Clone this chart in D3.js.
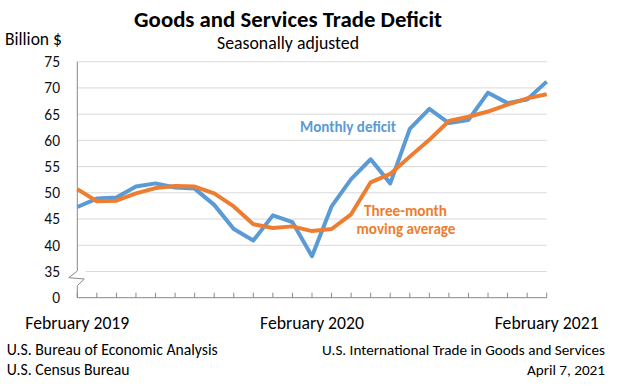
<!DOCTYPE html>
<html>
<head>
<meta charset="utf-8">
<script src="https://cdn.jsdelivr.net/npm/d3@7"></script>
<style>
  html, body { margin: 0; padding: 0; background: #fff; }
  svg { display: block; font-family: Carlito, Lato, "Open Sans", sans-serif; }
</style>
</head>
<body>
<svg id="chart" width="627" height="387"></svg>
<script>
// ---- data ----
const months = ["Feb 2019","Mar 2019","Apr 2019","May 2019","Jun 2019","Jul 2019","Aug 2019","Sep 2019","Oct 2019","Nov 2019","Dec 2019","Jan 2020",
                "Feb 2020","Mar 2020","Apr 2020","May 2020","Jun 2020","Jul 2020","Aug 2020","Sep 2020","Oct 2020","Nov 2020","Dec 2020","Jan 2021","Feb 2021"];
const monthlyDeficit = [47.3,48.9,49.1,51.2,51.8,51.0,50.8,47.7,43.1,40.9,45.7,44.4,37.9,47.4,52.6,56.4,51.8,62.2,66.0,63.3,63.9,69.1,67.1,67.8,71.2];
const movingAverage  = [50.7,48.4,48.5,49.9,50.9,51.3,51.2,49.9,47.4,44.0,43.3,43.6,42.7,43.1,45.9,52.0,53.6,56.9,60.1,63.7,64.5,65.5,66.8,68.0,68.8];
const yTickValues = [30,35,40,45,50,55,60,65,70,75];
const yTickLabels = ["0","35","40","45","50","55","60","65","70","75"];
const xLabelMonths = ["Feb 2019","Feb 2020","Feb 2021"];
const xLabelTexts  = ["February 2019","February 2020","February 2021"];

// ---- layout ----
const svg = d3.select("#chart");
const pLeft = 77.3, pRight = 546.7, pTop = 61.7, pBottom = 297.7;
const x = d3.scalePoint().domain(months).range([pLeft, pRight]);
const y = d3.scaleLinear().domain([30, 75]).range([pBottom, pTop]);
const BLUE = "#5B9BD5", ORANGE = "#ED7D31", GRID = "#D9D9D9", AXIS = "#898989";

function fit(sel, target) {
  const node = sel.node();
  const fs = parseFloat(sel.attr("font-size"));
  const w = node.getComputedTextLength();
  if (w > 0) sel.attr("font-size", (fs * target / w).toFixed(2));
  return sel;
}
function txt(str, xp, yp, size, anchor, target, opts = {}) {
  const t = svg.append("text").attr("x", xp).attr("y", yp)
    .attr("font-size", size).attr("text-anchor", anchor)
    .attr("fill", opts.fill || "#000")
    .attr("font-weight", opts.bold ? "bold" : "normal")
    .text(str);
  if (target) fit(t, target);
  return t;
}

// gridlines (35..75)
svg.append("g").selectAll("line")
  .data(yTickValues.filter(v => v > 30))
  .join("line")
  .attr("x1", d => d === 35 ? 85.7 : pLeft).attr("x2", pRight)
  .attr("y1", d => y(d)).attr("y2", d => y(d))
  .attr("stroke", GRID).attr("stroke-width", 1);

// y tick labels
svg.append("g").selectAll("text")
  .data(yTickValues)
  .join("text")
  .attr("x", 60).attr("y", d => y(d))
  .attr("dy", "0.35em")
  .attr("text-anchor", "end")
  .attr("font-size", 15.5)
  .attr("fill", "#111")
  .text((d, i) => yTickLabels[i]);

// x axis line and inside ticks
svg.append("line").attr("x1", pLeft).attr("x2", pRight)
  .attr("y1", pBottom).attr("y2", pBottom).attr("stroke", AXIS).attr("stroke-width", 1);
svg.append("g").selectAll("line")
  .data(months)
  .join("line")
  .attr("x1", d => x(d)).attr("x2", d => x(d))
  .attr("y1", pBottom).attr("y2", pBottom - 5)
  .attr("stroke", AXIS).attr("stroke-width", 1);

// y axis line with break
const bTop = 271, bBot = 285.7;
svg.append("path")
  .attr("d", `M${pLeft},${pTop} L${pLeft},${bTop} L${pLeft - 8.5},${bTop + 6.7} L${pLeft + 7},${bTop + 8} L${pLeft},${bBot} L${pLeft},${pBottom}`)
  .attr("fill", "none").attr("stroke", AXIS).attr("stroke-width", 1);

// lines
const line = d3.line().x((d, i) => x(months[i])).y(d => y(d));
svg.append("path").datum(monthlyDeficit).attr("d", line)
  .attr("fill", "none").attr("stroke", BLUE).attr("stroke-width", 4).attr("stroke-linejoin", "round");
svg.append("path").datum(movingAverage).attr("d", line)
  .attr("fill", "none").attr("stroke", ORANGE).attr("stroke-width", 4).attr("stroke-linejoin", "round");

// x labels
xLabelMonths.forEach((m, i) => txt(xLabelTexts[i], x(m), 328.5, 16, "middle", 104));

// titles
txt("Goods and Services Trade Deficit", 288, 27, 20, "middle", 308, { bold: true });
txt("Seasonally adjusted", 288, 49, 16, "middle", 142);
txt("Billion $", 5, 45, 16, "start", 57);

// annotations
txt("Monthly deficit", 300, 132, 15, "start", 96, { bold: true, fill: BLUE });
txt("Three-month", 405.5, 216, 15, "middle", 83, { bold: true, fill: ORANGE });
txt("moving average", 406, 234, 15, "middle", 99, { bold: true, fill: ORANGE });

// footer
const f1 = txt("U.S. Bureau of Economic Analysis", 6.8, 355, 14, "start", 211);
const fs = f1.attr("font-size");
txt("U.S. Census Bureau", 6.8, 375, fs, "start", null);
const f3 = txt("U.S. International Trade in Goods and Services", 605, 355, 14, "end", 283);
txt("April 7, 2021", 605, 375, f3.attr("font-size"), "end", null);
</script>
</body>
</html>
